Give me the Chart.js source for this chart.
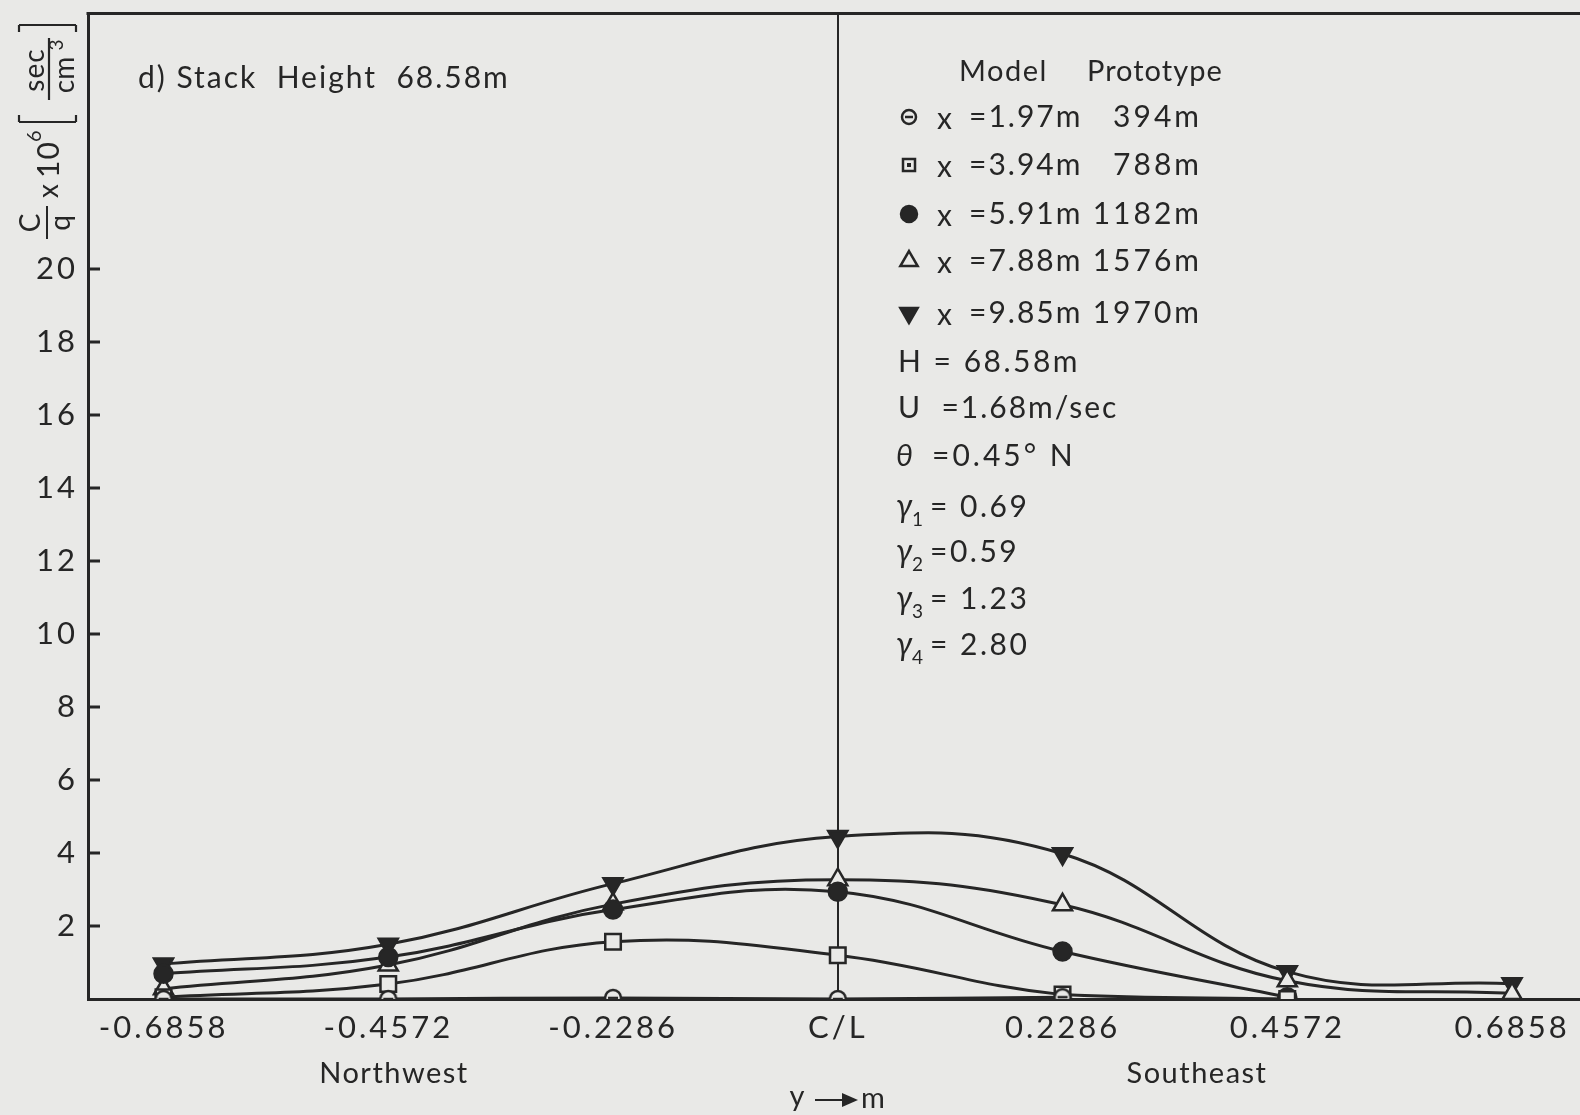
<!DOCTYPE html>
<html>
<head>
<meta charset="utf-8">
<script src="https://cdn.jsdelivr.net/npm/chart.js@4.4.1/dist/chart.umd.min.js"></script>
<style>
  html, body { margin: 0; padding: 0; background: #e9e9e7; }
  #wrap { width: 1580px; height: 1115px; }
</style>
</head>
<body>
<div id="wrap"><canvas id="plot" width="1580" height="1115"></canvas></div>
<script>
// lateral positions y (m) and their labels
const xTicks = [-0.6858, -0.4572, -0.2286, 0, 0.2286, 0.4572, 0.6858];
const xTickLabels = ['-0.6858', '-0.4572', '-0.2286', 'C/L', '0.2286', '0.4572', '0.6858'];
const yTicks = [2, 4, 6, 8, 10, 12, 14, 16, 18, 20];

// C/q x 10^6 at each lateral position, one array per downwind distance
const x197 = [0, 0, 0.03, 0, 0.05, null, null];
const x394 = [0.05, 0.41, 1.57, 1.2, 0.12, 0, null];
const x591 = [0.69, 1.15, 2.45, 2.94, 1.3, 0.05, null];
const x788 = [0.28, 0.93, 2.6, 3.27, 2.58, 0.5, 0.15];
const x985 = [0.96, 1.5, 3.16, 4.45, 3.98, 0.75, 0.42];

const modelLabels = ['=1.97m', '=3.94m', '=5.91m', '=7.88m', '=9.85m'];
const protoLabels = ['394m', '788m', '1182m', '1576m', '1970m'];

const ink = '#262626';
const paper = '#e9e9e7';
const font = 'Lato, "Noto Sans", sans-serif';

function pts(vals) {
  return xTicks.map((x, i) => ({ x: x, y: vals[i] }));
}

// open circle with a bar through it, open square with a dot (legend)
function markImg(kind, r) {
  const c = document.createElement('canvas');
  c.width = c.height = 2 * r + 4;
  const g = c.getContext('2d');
  const m = r + 2;
  g.strokeStyle = ink;
  g.fillStyle = paper;
  g.lineWidth = 2.5;
  g.beginPath();
  if (kind === 'circ') g.arc(m, m, r, 0, Math.PI * 2);
  else g.rect(m - r, m - r, 2 * r, 2 * r);
  g.fill();
  g.stroke();
  g.beginPath();
  if (kind === 'circ') { g.moveTo(m - r + 3, m); g.lineTo(m + r - 3, m); g.stroke(); }
  else { g.fillStyle = ink; g.fillRect(m - 2, m - 2, 4, 4); }
  return c;
}
const circBar = markImg('circ', 8);
const circBarLeg = markImg('circ', 7);
const sqDotLeg = markImg('sq', 6);

const styles = [
  { pointStyle: circBar, radius: 8, fill: paper, rotation: 0, leg: circBarLeg },
  { pointStyle: 'rect', radius: 11, fill: paper, rotation: 0, leg: sqDotLeg },
  { pointStyle: 'circle', radius: 9, fill: ink, rotation: 0 },
  { pointStyle: 'triangle', radius: 11, fill: paper, rotation: 0 },
  { pointStyle: 'triangle', radius: 11, fill: ink, rotation: 180 }
];
const series = [x197, x394, x591, x788, x985];

const datasets = series.map((vals, i) => ({
  data: pts(vals),
  borderColor: ink,
  borderWidth: 3,
  tension: 0.4,
  spanGaps: false,
  pointStyle: styles[i].pointStyle,
  pointRadius: styles[i].radius,
  pointRotation: styles[i].rotation,
  pointBackgroundColor: styles[i].fill,
  pointBorderColor: ink,
  pointBorderWidth: 2.5
}));

function txt(ctx, s, x, y, size, opts) {
  opts = opts || {};
  ctx.font = (opts.italic ? 'italic ' : '') + size + 'px ' + font;
  ctx.letterSpacing = (opts.sp !== undefined ? opts.sp : 2) + 'px';
  ctx.textAlign = opts.align || 'left';
  ctx.fillText(s, x, y);
}

const annot = {
  id: 'annot',
  beforeDraw(chart) {
    chart.ctx.letterSpacing = '3px';
  },
  beforeDatasetsDraw(chart) {
    chart.ctx.letterSpacing = '0px';
  },
  afterDraw(chart) {
    const { ctx, chartArea: a, scales: { y } } = chart;
    ctx.save();
    ctx.strokeStyle = ink;
    ctx.fillStyle = ink;
    ctx.lineWidth = 3;
    ctx.beginPath();
    // frame runs off the right edge of the page
    ctx.moveTo(a.left - 1.5, a.top);
    ctx.lineTo(chart.width, a.top);
    ctx.moveTo(a.right - 2, a.bottom + 0.5);
    ctx.lineTo(chart.width, a.bottom + 0.5);
    yTicks.forEach(v => {
      const py = y.getPixelForValue(v);
      ctx.moveTo(a.left, py);
      ctx.lineTo(a.left + 12, py);
    });
    ctx.stroke();

    ctx.textBaseline = 'middle';
    txt(ctx, 'd) Stack  Height  68.58m', 138, 78, 30);

    // legend block
    txt(ctx, 'Model', 959, 72, 29, { sp: 1.5 });
    txt(ctx, 'Prototype', 1087, 72, 29, { sp: 1 });
    const rowY = [117, 165, 214, 261, 313];
    rowY.forEach((ry, i) => {
      const s = styles[i];
      ctx.fillStyle = s.fill;
      ctx.lineWidth = 2.5;
      Chart.helpers.drawPoint(ctx, { pointStyle: s.leg || s.pointStyle, radius: s.radius - 1, rotation: s.rotation, borderWidth: 2.5 }, 909, ry);
      ctx.fillStyle = ink;
      txt(ctx, 'x', 937, ry + 2, 30);
      txt(ctx, modelLabels[i], 969, ry, 30);
      txt(ctx, protoLabels[i], 1202, ry, 30, { align: 'right', sp: 3 });
    });
    txt(ctx, 'H = 68.58m', 898, 362, 30, { sp: 2.5 });
    txt(ctx, 'U  =1.68m/sec', 898, 408, 30);
    txt(ctx, 'θ', 896, 456, 30, { italic: true });
    txt(ctx, '=0.45° N', 932, 456, 30, { sp: 3 });
    const gam = [['1', '= 0.69', 507], ['2', '=0.59', 552], ['3', '= 1.23', 599], ['4', '= 2.80', 645]];
    gam.forEach(g => {
      txt(ctx, 'γ', 896, g[2], 32, { italic: true, sp: 0 });
      txt(ctx, g[0], 912, g[2] + 13, 19, { sp: 0 });
      txt(ctx, g[1], 930, g[2], 30, { sp: 2.5 });
    });

    // axis captions
    txt(ctx, 'Northwest', 394, 1074, 29, { align: 'center', sp: 1.5 });
    txt(ctx, 'Southeast', 1197, 1074, 29, { align: 'center', sp: 1.5 });
    txt(ctx, 'y', 798, 1097, 29, { align: 'center' });
    txt(ctx, 'm', 874, 1099, 29, { align: 'center' });
    ctx.lineWidth = 2;
    ctx.beginPath();
    ctx.moveTo(815, 1100);
    ctx.lineTo(846, 1100);
    ctx.stroke();
    ctx.beginPath();
    ctx.moveTo(858, 1100);
    ctx.lineTo(842, 1093);
    ctx.lineTo(842, 1107);
    ctx.closePath();
    ctx.fill();

    // rotated y title: C/q x 10^6 [sec/cm^3]
    ctx.translate(47, 250);
    ctx.rotate(-Math.PI / 2);
    txt(ctx, 'C', 27, -16, 28, { align: 'center', sp: 0 });
    txt(ctx, 'q', 27, 14, 28, { align: 'center', sp: 0 });
    ctx.lineWidth = 2;
    ctx.beginPath();
    ctx.moveTo(11, 0);
    ctx.lineTo(44, 0);
    ctx.stroke();
    txt(ctx, 'x', 52, 2, 28, { sp: 0 });
    txt(ctx, '10', 72, 2, 30, { sp: 1 });
    txt(ctx, '6', 108, -12, 20, { sp: 0 });
    txt(ctx, 'sec', 180, -12, 28, { align: 'center', sp: 1 });
    txt(ctx, 'cm', 175, 18, 28, { align: 'center', sp: 0 });
    txt(ctx, '3', 205, 10, 19, { align: 'center', sp: 0 });
    ctx.lineWidth = 2.2;
    ctx.beginPath();
    ctx.moveTo(150, 2);
    ctx.lineTo(212, 2);
    ctx.moveTo(128, -28); ctx.lineTo(128, 29);
    ctx.moveTo(128, -28); ctx.lineTo(135, -28);
    ctx.moveTo(128, 29); ctx.lineTo(135, 29);
    ctx.moveTo(225, -28); ctx.lineTo(225, 29);
    ctx.moveTo(225, -28); ctx.lineTo(218, -28);
    ctx.moveTo(225, 29); ctx.lineTo(218, 29);
    ctx.stroke();
    ctx.restore();
  }
};

new Chart(document.getElementById('plot'), {
  type: 'line',
  data: { datasets: datasets },
  options: {
    responsive: false,
    animation: false,
    layout: { padding: { top: 12, right: 0, left: 0, bottom: 0 } },
    plugins: { legend: { display: false }, tooltip: { enabled: false } },
    scales: {
      x: {
        type: 'linear',
        min: -0.7626,
        max: 0.7412,
        afterBuildTicks: s => { s.ticks = xTicks.map(v => ({ value: v })); },
        afterFit: s => { s.height = 116; s.paddingLeft = 0; s.paddingRight = 0; },
        ticks: {
          color: ink,
          font: { family: font, size: 31 },
          padding: 10,
          maxRotation: 0,
          autoSkip: false,
          callback: (v) => {
            const i = xTicks.indexOf(v);
            return i >= 0 ? xTickLabels[i] : '';
          }
        },
        grid: {
          drawTicks: false,
          color: c => (c.tick && c.tick.value === 0 ? ink : 'rgba(0,0,0,0)'),
          lineWidth: 2
        },
        border: { color: ink, width: 3 }
      },
      y: {
        min: 0,
        max: 27,
        afterBuildTicks: s => { s.ticks = yTicks.map(v => ({ value: v })); },
        afterFit: s => { s.width = 88; s.paddingTop = 0; s.paddingBottom = 0; },
        ticks: {
          color: ink,
          font: { family: font, size: 31 },
          padding: 10,
          callback: v => String(v)
        },
        grid: { display: false, drawTicks: false },
        border: { color: ink, width: 3 }
      }
    }
  },
  plugins: [annot]
});
</script>
</body>
</html>
